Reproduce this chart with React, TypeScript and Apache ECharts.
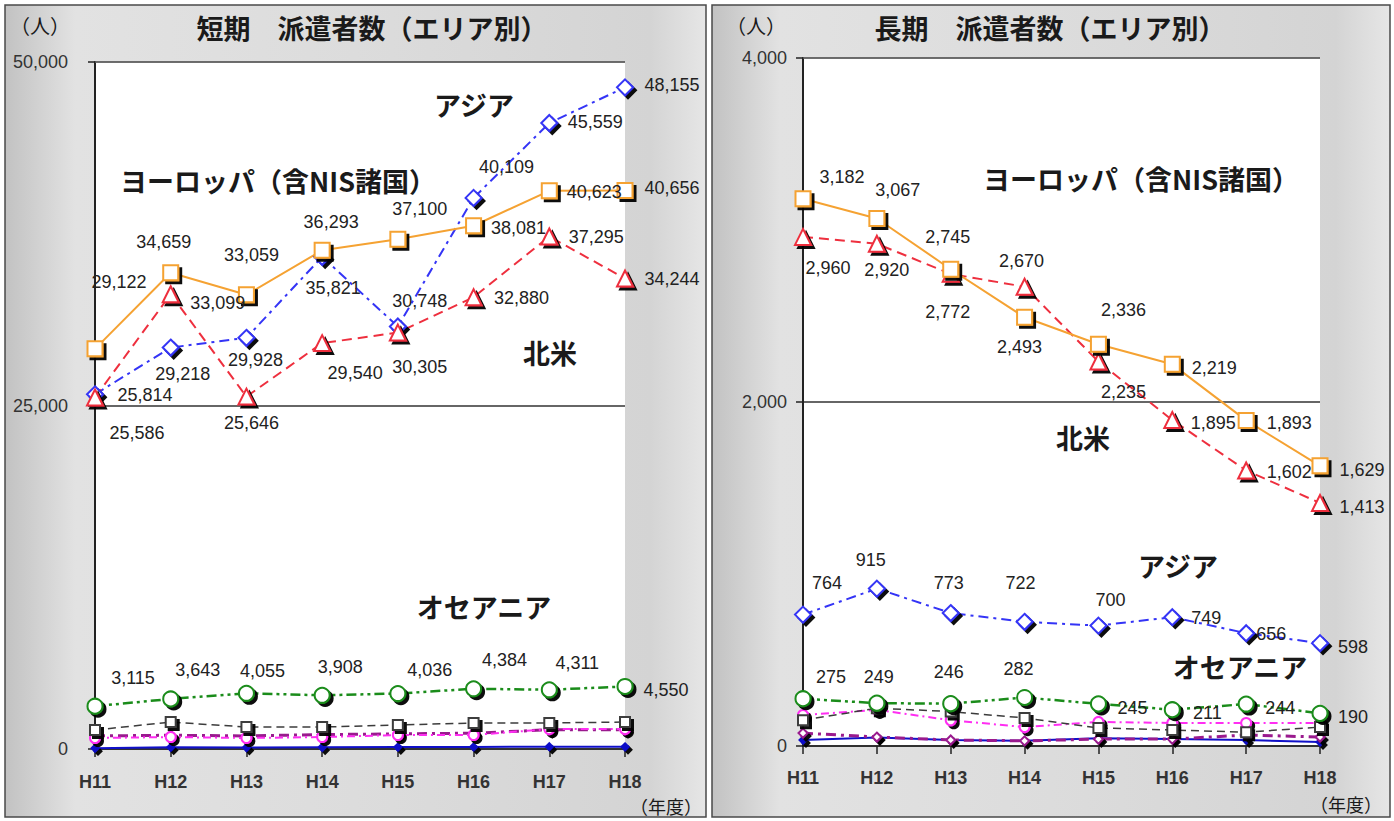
import { useEffect, useRef } from 'react';
import * as echarts from 'echarts';

// 年度
const years = ['H11', 'H12', 'H13', 'H14', 'H15', 'H16', 'H17', 'H18'];

// 短期 派遣者数（人）
const shortEurope = [29122, 34659, 33059, 36293, 37100, 38081, 40623, 40656];
const shortNorthAmerica = [25586, 33099, 25646, 29540, 30305, 32880, 37295, 34244];
const shortAsia = [25814, 29218, 29928, 35821, 30748, 40109, 45559, 48155];
const shortOceania = [3115, 3643, 4055, 3908, 4036, 4384, 4311, 4550];
const shortLatinAmerica = [1380, 1960, 1600, 1600, 1750, 1890, 1900, 1960];
const shortMiddleEast = [800, 870, 800, 870, 1020, 1020, 1450, 1450];
const shortAfrica = [950, 1000, 950, 1050, 1100, 1150, 1400, 1400];
const shortOther = [60, 120, 110, 130, 140, 150, 170, 160];

// 長期 派遣者数（人）
const longEurope = [3182, 3067, 2772, 2493, 2336, 2219, 1893, 1629];
const longNorthAmerica = [2960, 2920, 2745, 2670, 2235, 1895, 1602, 1413];
const longAsia = [764, 915, 773, 722, 700, 749, 656, 598];
const longOceania = [275, 249, 246, 282, 245, 211, 244, 190];
const longLatinAmerica = [150, 220, 200, 163, 105, 93, 80, 110];
const longMiddleEast = [180, 210, 150, 110, 140, 134, 134, 134];
const longAfrica = [75, 52, 35, 30, 40, 40, 64, 52];
const longOther = [35, 50, 35, 30, 45, 40, 35, 23];

// y axis ranges
const shortMax = 50000;
const shortStep = 25000;
const longMax = 4000;
const longStep = 2000;

// data label placement (offset from marker centre, px)
const shortEuropeLabelPos = [[24, -67], [-7, -31], [5, -40], [9, -28], [22, -30], [45, 2], [45, 1], [47, -2]];
const shortNorthAmericaLabelPos = [[42, 36], [47, 9], [5, 26], [33, 30], [22, 34], [48, 1], [47, 0], [47, 1]];
const shortAsiaLabelPos = [[50, 1], [12, 26], [9, 22], [11, 31], [22, -26], [33, -31], [46, -1], [47, -2]];
const shortOceaniaLabelPos = [[38, -28], [27, -29], [16, -22], [18, -28], [32, -24], [31, -29], [28, -27], [41, 4]];

const longEuropeLabelPos = [[39, -22], [21, -28], [-3, 43], [-5, 30], [25, -34], [42, 4], [43, 3], [42, 4]];
const longNorthAmericaLabelPos = [[25, 31], [10, 26], [-3, -37], [-3, -26], [25, 30], [41, 3], [43, 2], [42, 4]];
const longAsiaLabelPos = [[24, -32], [-6, -29], [-2, -30], [-4, -39], [12, -26], [34, 1], [25, 1], [33, 4]];
const longOceaniaLabelPos = [[28, -22], [2, -26], [-2, -32], [-6, -28], [34, 4], [35, 3], [34, 4], [33, 4]];

const fmt = (v: number) => v.toLocaleString('en-US');

const NUM_FONT = '"Liberation Sans", Arial, sans-serif';
const JP_FONT = '"Noto Sans CJK JP", "Noto Sans CJK SC", sans-serif';

type LineCfg = {
  name: string;
  values: number[];
  axis: number;
  color: string;
  width: number;
  dash: 'solid' | number[];
  symbol: string;
  size: number;
  fill?: string;
  labels?: number[][];
  z?: number;
};

function lineSeries(c: LineCfg) {
  return {
    type: 'line',
    name: c.name,
    xAxisIndex: c.axis,
    yAxisIndex: c.axis,
    z: c.z ?? 2,
    silent: true,
    symbol: c.symbol,
    symbolSize: c.size,
    showAllSymbol: true,
    emphasis: { disabled: true },
    lineStyle: { color: c.color, width: c.width, type: c.dash },
    itemStyle: {
      color: c.fill ?? '#ffffff',
      borderColor: c.color,
      borderWidth: 2,
      shadowColor: 'rgba(0,0,0,0.95)',
      shadowOffsetX: 3,
      shadowOffsetY: 3,
      shadowBlur: 0,
    },
    label: {
      show: !!c.labels,
      position: 'inside',
      formatter: (p: any) => fmt(p.value),
      fontFamily: NUM_FONT,
      fontSize: 18,
      color: '#222',
    },
    data: c.values.map((v, i) =>
      c.labels ? { value: v, label: { offset: c.labels[i] } } : v
    ),
  };
}

const ORANGE = '#F5A232';
const RED = '#EE2F3E';
const BLUE = '#3434F6';
const GREEN = '#1A8C1A';
const GRAY = '#3c3c3c';
const MAGENTA = '#FF2EF2';
const PURPLE = '#9A1A8E';
const NAVY = '#1010C8';

function panelSeries(axis: number, s: {
  europe: number[]; na: number[]; asia: number[]; oceania: number[];
  latin: number[]; mideast: number[]; africa: number[]; other: number[];
  pos: { europe: number[][]; na: number[][]; asia: number[][]; oceania: number[][] };
}) {
  return [
    lineSeries({ name: 'その他', values: s.other, axis, color: NAVY, width: 2, dash: 'solid', symbol: 'diamond', size: 7, fill: NAVY, z: 1 }),
    lineSeries({ name: 'アフリカ', values: s.africa, axis, color: PURPLE, width: 3, dash: [10, 5, 3, 5], symbol: 'diamond', size: 9, z: 1 }),
    lineSeries({ name: '中東', values: s.mideast, axis, color: MAGENTA, width: 2, dash: [8, 4, 2, 4], symbol: 'circle', size: 10, z: 1 }),
    lineSeries({ name: '中南米', values: s.latin, axis, color: GRAY, width: 1.5, dash: [8, 5], symbol: 'rect', size: 10, z: 1 }),
    lineSeries({ name: 'オセアニア', values: s.oceania, axis, color: GREEN, width: 2.5, dash: [10, 4, 3, 4, 3, 4], symbol: 'circle', size: 15, labels: s.pos.oceania }),
    lineSeries({ name: 'アジア', values: s.asia, axis, color: BLUE, width: 2, dash: [10, 5, 3, 5], symbol: 'diamond', size: 16, labels: s.pos.asia }),
    lineSeries({ name: '北米', values: s.na, axis, color: RED, width: 2, dash: [10, 6], symbol: 'triangle', size: 16, labels: s.pos.na }),
    lineSeries({ name: 'ヨーロッパ', values: s.europe, axis, color: ORANGE, width: 2, dash: 'solid', symbol: 'rect', size: 15, labels: s.pos.europe }),
  ];
}

function valueAxis(gridIndex: number, max: number, step: number, margin: number) {
  return {
    type: 'value',
    gridIndex,
    min: 0,
    max,
    interval: step,
    axisLine: { show: true, lineStyle: { color: '#222', width: 2 } },
    axisTick: { show: true, length: 7, lineStyle: { color: '#222', width: 1.5 } },
    splitLine: { show: true, lineStyle: { color: '#333', width: 1.5 } },
    axisLabel: {
      margin,
      formatter: (v: number) => fmt(v),
      fontFamily: NUM_FONT,
      fontSize: 18,
      color: '#333',
    },
  };
}

function categoryAxis(gridIndex: number, margin: number) {
  return {
    type: 'category',
    gridIndex,
    data: years,
    boundaryGap: false,
    axisLine: { show: true, lineStyle: { color: '#222', width: 1.5 } },
    axisTick: { show: true, length: 8, lineStyle: { color: '#222', width: 1.5 } },
    axisLabel: {
      margin,
      fontFamily: NUM_FONT,
      fontSize: 18,
      fontWeight: 'bold',
      color: '#333',
    },
  };
}

const panelFill = () =>
  new echarts.graphic.LinearGradient(0, 0, 1, 0, [
    { offset: 0, color: '#c2c2c2' },
    { offset: 0.1, color: '#e2e2e2' },
    { offset: 0.5, color: '#dcdcdc' },
    { offset: 0.92, color: '#d4d4d4' },
    { offset: 1, color: '#e6e6e6' },
  ]);

const jpText = (text: string, x: number, y: number, size: number, align = 'center', weight = 'bold') => ({
  type: 'text',
  x,
  y,
  z: 100,
  silent: true,
  style: {
    text,
    fill: '#1a1a1a',
    fontFamily: JP_FONT,
    fontSize: size,
    fontWeight: weight,
    align,
    verticalAlign: 'middle',
  },
});

const option = {
  animation: false,
  backgroundColor: '#ffffff',
  graphic: {
    elements: [
      { type: 'rect', z: -100, silent: true, shape: { x: 5, y: 5, width: 701, height: 812 }, style: { fill: panelFill(), stroke: '#4a4a4a', lineWidth: 1.5 } },
      { type: 'rect', z: -100, silent: true, shape: { x: 712, y: 5, width: 678, height: 812 }, style: { fill: panelFill(), stroke: '#4a4a4a', lineWidth: 1.5 } },
      // plot-area top edges
      { type: 'line', z: 50, silent: true, shape: { x1: 95, y1: 62, x2: 625, y2: 62 }, style: { stroke: '#777', lineWidth: 1 } },
      { type: 'line', z: 50, silent: true, shape: { x1: 803, y1: 58, x2: 1320, y2: 58 }, style: { stroke: '#777', lineWidth: 1 } },
      // titles
      jpText('短期　派遣者数（エリア別）', 372, 27, 27),
      jpText('長期　派遣者数（エリア別）', 1050, 27, 27),
      jpText('（人）', 40, 25, 20, 'center', 'normal'),
      jpText('（人）', 756, 25, 20, 'center', 'normal'),
      jpText('（年度）', 666, 806, 18, 'center', 'normal'),
      jpText('（年度）', 1346, 804, 18, 'center', 'normal'),
      // area names, 短期
      jpText('アジア', 474, 104, 27),
      jpText('ヨーロッパ（含NIS諸国）', 120, 180, 27, 'left'),
      jpText('北米', 550, 352, 27),
      jpText('オセアニア', 484, 606, 27),
      // area names, 長期
      jpText('ヨーロッパ（含NIS諸国）', 983, 178, 27, 'left'),
      jpText('北米', 1083, 437, 27),
      jpText('アジア', 1178, 565, 27),
      jpText('オセアニア', 1240, 666, 27),
    ],
  },
  grid: [
    { left: 95, right: 1394 - 625, top: 62, bottom: 821 - 749, show: true, backgroundColor: '#ffffff', borderWidth: 0 },
    { left: 803, right: 1394 - 1320, top: 58, bottom: 821 - 746, show: true, backgroundColor: '#ffffff', borderWidth: 0 },
  ],
  xAxis: [categoryAxis(0, 24), categoryAxis(1, 23)],
  yAxis: [valueAxis(0, shortMax, shortStep, 27), valueAxis(1, longMax, longStep, 16)],
  series: [
    ...panelSeries(0, {
      europe: shortEurope, na: shortNorthAmerica, asia: shortAsia, oceania: shortOceania,
      latin: shortLatinAmerica, mideast: shortMiddleEast, africa: shortAfrica, other: shortOther,
      pos: { europe: shortEuropeLabelPos, na: shortNorthAmericaLabelPos, asia: shortAsiaLabelPos, oceania: shortOceaniaLabelPos },
    }),
    ...panelSeries(1, {
      europe: longEurope, na: longNorthAmerica, asia: longAsia, oceania: longOceania,
      latin: longLatinAmerica, mideast: longMiddleEast, africa: longAfrica, other: longOther,
      pos: { europe: longEuropeLabelPos, na: longNorthAmericaLabelPos, asia: longAsiaLabelPos, oceania: longOceaniaLabelPos },
    }),
  ],
};

export default function App() {
  const ref = useRef<HTMLDivElement>(null);
  useEffect(() => {
    document.body.style.margin = '0';
    const chart = echarts.init(ref.current!, null, { renderer: 'svg' });
    chart.setOption(option as any);
    return () => chart.dispose();
  }, []);
  return <div ref={ref} style={{ width: 1394, height: 821 }} />;
}
